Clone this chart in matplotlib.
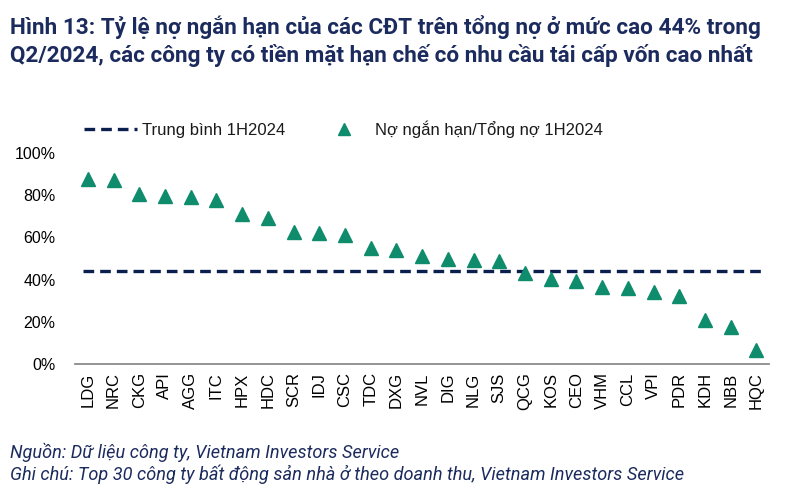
import numpy as np
import matplotlib.pyplot as plt
from matplotlib.ticker import PercentFormatter

# data
companies = ["LDG", "NRC", "CKG", "API", "AGG", "ITC", "HPX", "HDC", "SCR", "IDJ",
             "CSC", "TDC", "DXG", "NVL", "DIG", "NLG", "SJS", "QCG", "KOS", "CEO",
             "VHM", "CCL", "VPI", "PDR", "KDH", "NBB", "HQC"]
short_ratio = [0.877, 0.870, 0.806, 0.794, 0.790, 0.775, 0.713, 0.690, 0.626, 0.622,
               0.610, 0.550, 0.540, 0.510, 0.496, 0.492, 0.486, 0.429, 0.403, 0.395,
               0.363, 0.359, 0.343, 0.322, 0.209, 0.174, 0.066]
average = 0.44

navy = "#0B1F4E"
green = "#0E8C6C"
title_col = "#1C2B5E"

plt.rcParams['font.family'] = ['Liberation Sans', 'DejaVu Sans']

fig = plt.figure(figsize=(7.89, 4.93), dpi=100)
ax = fig.add_axes([0.095, 0.2617, 0.88, 0.428])

x = np.arange(len(companies))
ax.plot([x[0] - 0.2, x[-1] + 0.2], [average, average], color=navy, lw=2.4,
        dashes=(3.2, 1.8), label="Trung bình 1H2024")
ax.plot(x, short_ratio, linestyle='none', marker='^', ms=10, color=green,
        label="Nợ ngắn hạn/Tổng nợ 1H2024")

ax.set_xlim(-0.5, len(companies) - 0.5)
ax.set_ylim(0, 1.0)
ax.set_yticks(np.arange(0, 1.01, 0.2))
ax.yaxis.set_major_formatter(PercentFormatter(1.0, decimals=0))
ax.set_xticks(x)
ax.set_xticklabels(companies, rotation=90, fontsize=12)
ax.tick_params(axis='y', labelsize=11.5, length=0, pad=14)
ax.tick_params(axis='x', length=0, pad=6)
for s in ['top', 'right', 'left']:
    ax.spines[s].set_visible(False)
ax.spines['bottom'].set_color('#808080')
ax.spines['bottom'].set_linewidth(1.2)

leg = ax.legend(loc='lower left', bbox_to_anchor=(-0.009, 1.0), ncol=2, frameon=False,
                fontsize=12, handlelength=3.2, columnspacing=1.9, handletextpad=0.3,
                markerscale=0.85)
for t in leg.get_texts():
    t.set_color('#1a1a1a')

title_font = ['Roboto', 'DejaVu Sans']
fig.text(0.013, 0.945, "Hình 13: Tỷ lệ nợ ngắn hạn của các CĐT trên tổng nợ ở mức cao 44% trong",
         fontsize=16.2, fontweight='bold', color=title_col, family=title_font, va='center')
fig.text(0.013, 0.888, "Q2/2024, các công ty có tiền mặt hạn chế có nhu cầu tái cấp vốn cao nhất",
         fontsize=16.2, fontweight='bold', color=title_col, family=title_font, va='center')
fig.text(0.013, 0.083, "Nguồn: Dữ liệu công ty, Vietnam Investors Service",
         fontsize=13.1, style='italic', color=title_col, family=title_font, va='center')
fig.text(0.013, 0.038, "Ghi chú: Top 30 công ty bất động sản nhà ở theo doanh thu, Vietnam Investors Service",
         fontsize=13.1, style='italic', color=title_col, family=title_font, va='center')

fig.savefig("out.png", dpi=100)
